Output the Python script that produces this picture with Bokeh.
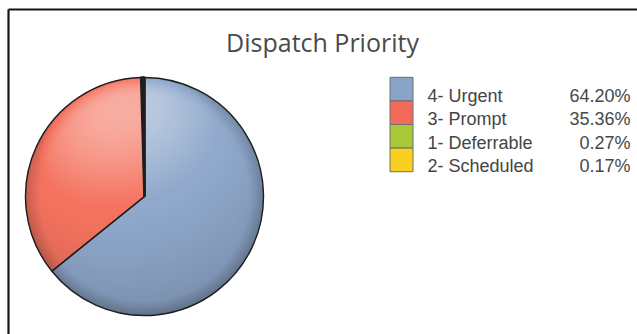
import numpy as np
from bokeh.plotting import figure
from bokeh.models import Range1d, ColumnDataSource
from bokeh.embed import file_html
from bokeh.resources import INLINE
from bokeh.core.properties import value

# ---- data ----
title = "Dispatch Priority"
categories = ["4- Urgent", "3- Prompt", "1- Deferrable", "2- Scheduled"]
percents = [64.20, 35.36, 0.27, 0.17]
slice_colors = ["#8fa8cb", "#f4735f", "#a6c93b", "#fbd01f"]
legend_colors = ["#8aa4c8", "#f26b5a", "#a8c83a", "#f9cf22"]

W, H = 637, 334


def py(ypx):
    return H - ypx


p = figure(width=W, height=H, x_range=Range1d(0, W), y_range=Range1d(0, H),
           output_backend="svg", toolbar_location=None, min_border=0,
           x_axis_location=None, y_axis_location=None)
p.grid.visible = False
p.outline_line_color = None
p.background_fill_color = "white"
p.border_fill_color = "white"

# outer frame (left and top edges visible)
p.segment(x0=[8, 8], y0=[py(9), py(9)], x1=[8, 700], y1=[py(400), py(9)],
          line_color="#151515", line_width=2.2)

# ---- pie ----
CX, CY, R = 144, py(196), 119
fr = np.array(percents) / sum(percents)
cum = np.concatenate([[0.0], np.cumsum(fr)])
start = np.pi / 2 - cum[:-1] * 2 * np.pi
end = np.pi / 2 - cum[1:] * 2 * np.pi
lw = [1.4 if f > 0.01 else 2.6 for f in fr]
src = ColumnDataSource(dict(start=start, end=end, color=slice_colors,
                            cat=categories, pct=percents, lw=lw))

p.wedge(x=CX, y=CY, radius=R, start_angle="start", end_angle="end",
        direction="clock", fill_color="color", line_color=None, source=src)

# shading overlay (sphere-like lighting)
n = 2 * R
g = (np.arange(n) + 0.5) / n * 2 - 1
U, V = np.meshgrid(g, g)
rr = U ** 2 + V ** 2
Z = np.sqrt(np.clip(1 - rr, 0, 1))
L = np.array([-0.2, 0.72, 0.66])
L = L / np.linalg.norm(L)
s = U * L[0] + V * L[1] + Z * L[2]
s0 = 0.6
aw = np.where(s > s0, 0.42 * ((s - s0) / (1 - s0)) ** 1.3, 0.0)
ab = np.where(s < s0, 0.22 * ((s0 - s) / (s0 + 1)), 0.0)
rim = 0.16 * np.clip((np.sqrt(rr) - 0.88) / 0.12, 0, 1)
net = aw - ab - rim
img = np.zeros((n, n, 4), dtype=np.uint8)
pos = net > 0
img[..., 0] = np.where(pos, 255, 0)
img[..., 1] = np.where(pos, 255, 0)
img[..., 2] = np.where(pos, 255, 0)
alpha = np.clip(np.abs(net), 0, 1) * 255
alpha[rr > 1] = 0
img[..., 3] = alpha.astype(np.uint8)
img32 = img.view(dtype=np.uint32).reshape((n, n))
p.image_rgba(image=[img32], x=CX - R, y=CY - R, dw=n, dh=n)

# outlines
p.wedge(x=CX, y=CY, radius=R, start_angle="start", end_angle="end",
        direction="clock", fill_color=None, line_color="#1e1e1e",
        line_width="lw", source=src)

# ---- title ----
p.text(x=[322], y=[py(41)], text=[title], text_font=value("Open Sans"),
       text_font_size="25px", text_color="#4a4a4a", text_align="center",
       text_baseline="alphabetic")

# ---- legend ----
step = 23.6
rows = np.arange(len(categories))
p.rect(x=[401] * len(categories), y=[py(88.6 + step * i) for i in rows],
       width=23, height=step, fill_color=legend_colors, line_color="#6e6e6e",
       line_width=1)
p.text(x=[427] * len(categories), y=[py(95 + step * i) for i in rows],
       text=categories, text_font=value("Liberation Sans"),
       text_font_size="18px", text_color="#444444", text_baseline="alphabetic")
p.text(x=[630] * len(categories), y=[py(95 + step * i) for i in rows],
       text=[f"{v:.2f}%" for v in percents], text_font=value("Liberation Sans"),
       text_font_size="18px", text_color="#484848", text_align="right",
       text_baseline="alphabetic")

open("out.html", "w").write(file_html(p, INLINE))
